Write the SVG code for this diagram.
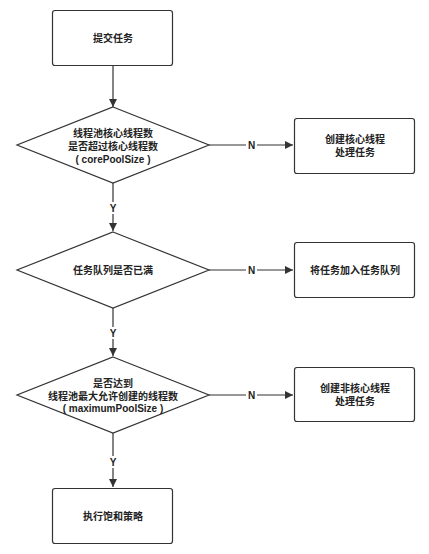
<svg xmlns="http://www.w3.org/2000/svg" width="429" height="554" viewBox="0 0 429 554">
<defs>
<marker id="arr" viewBox="0 0 10 10" refX="10" refY="5" markerWidth="9" markerHeight="8" markerUnits="userSpaceOnUse" orient="auto">
<path d="M0,0 L10,5 L0,10 z" fill="#333"/>
</marker>
</defs>
<style>
.box{fill:#fff;stroke:#333;stroke-width:1.2}
.t{font-family:"Liberation Sans","Noto Sans CJK SC",sans-serif;font-size:10px;font-weight:bold;fill:#222;text-anchor:middle;dominant-baseline:central}
.c{stroke:#333;stroke-width:1.2;fill:none}
.lbl{font-family:"Liberation Sans","Noto Sans CJK SC",sans-serif;font-size:10px;font-weight:bold;fill:#222;text-anchor:middle;dominant-baseline:central}
.lb{fill:#fff}
</style>
<rect width="429" height="554" fill="#fff"/>
<g id="connectors">
<line class="c" x1="113" y1="65" x2="113" y2="107" marker-end="url(#arr)"/>
<line class="c" x1="209" y1="145" x2="293" y2="145" marker-end="url(#arr)"/>
<line class="c" x1="113" y1="183" x2="113" y2="231" marker-end="url(#arr)"/>
<line class="c" x1="209" y1="270" x2="293" y2="270" marker-end="url(#arr)"/>
<line class="c" x1="113" y1="308" x2="113" y2="356" marker-end="url(#arr)"/>
<line class="c" x1="209" y1="395" x2="293" y2="395" marker-end="url(#arr)"/>
<line class="c" x1="113" y1="433" x2="113" y2="487" marker-end="url(#arr)"/>
<rect class="lb" x="246" y="139" width="11" height="12"/>
<text class="lbl" x="251.5" y="145">N</text>
<rect class="lb" x="246" y="264" width="11" height="12"/>
<text class="lbl" x="251.5" y="270">N</text>
<rect class="lb" x="246" y="389" width="11" height="12"/>
<text class="lbl" x="251.5" y="395">N</text>
<rect class="lb" x="108" y="202" width="10" height="12"/>
<text class="lbl" x="113" y="208">Y</text>
<rect class="lb" x="108" y="327" width="10" height="12"/>
<text class="lbl" x="113" y="333">Y</text>
<rect class="lb" x="108" y="456" width="10" height="12"/>
<text class="lbl" x="113" y="462">Y</text>
</g>
<g id="start">
<rect class="box" x="52.5" y="10.5" width="120" height="55" rx="2.5"/>
<text class="t" x="113" y="38">提交任务</text>
</g>
<g id="d1">
<polygon class="box" points="113,107 209,145 113,183 17,145"/>
<text class="t" x="113" y="133">线程池核心线程数</text>
<text class="t" x="113" y="146">是否超过核心线程数</text>
<text class="t" x="113" y="159">( corePoolSize )</text>
</g>
<g id="b2">
<rect class="box" x="294.5" y="118.5" width="120" height="55" rx="2.5"/>
<text class="t" x="355" y="139.5">创建核心线程</text>
<text class="t" x="355" y="152.5">处理任务</text>
</g>
<g id="d2">
<polygon class="box" points="113,232 209,270 113,308 17,270"/>
<text class="t" x="113" y="270">任务队列是否已满</text>
</g>
<g id="b3">
<rect class="box" x="294.5" y="242.5" width="120" height="55" rx="2.5"/>
<text class="t" x="355" y="270">将任务加入任务队列</text>
</g>
<g id="d3">
<polygon class="box" points="113,357 209,395 113,433 17,395"/>
<text class="t" x="113" y="383.5">是否达到</text>
<text class="t" x="113" y="396">线程池最大允许创建的线程数</text>
<text class="t" x="113" y="408.5">( maximumPoolSize )</text>
</g>
<g id="b4">
<rect class="box" x="294.5" y="367.5" width="120" height="54" rx="2.5"/>
<text class="t" x="355" y="388.5">创建非核心线程</text>
<text class="t" x="355" y="401.5">处理任务</text>
</g>
<g id="end">
<rect class="box" x="52.5" y="488.5" width="120" height="55" rx="2.5"/>
<text class="t" x="113" y="516">执行饱和策略</text>
</g>
</svg>
